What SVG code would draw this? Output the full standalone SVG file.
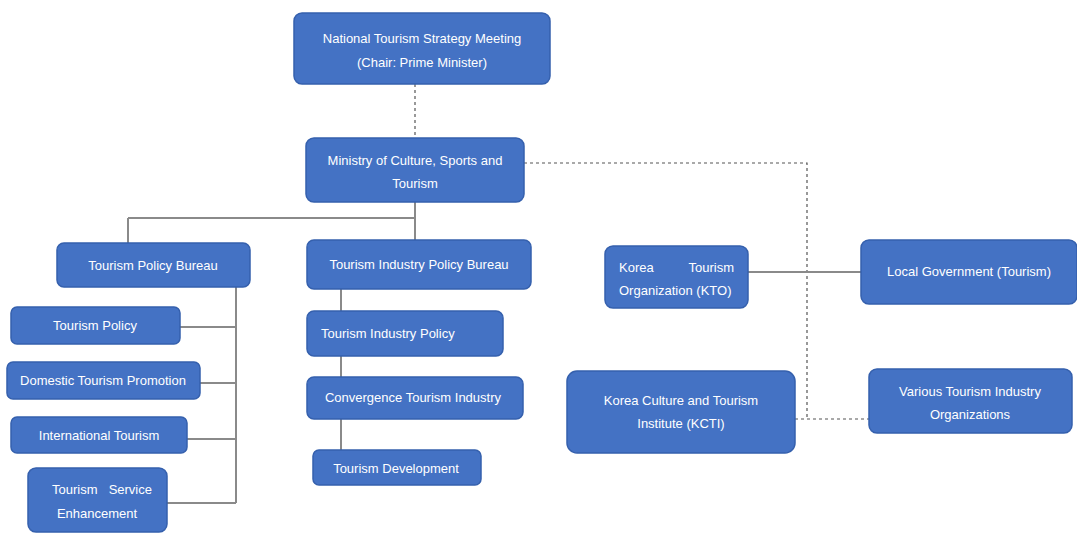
<svg xmlns="http://www.w3.org/2000/svg" width="1077" height="533" viewBox="0 0 1077 533">
<style>
.n{fill:#4472C4;stroke:#3560AD;stroke-width:1.5}
.t{fill:#fff;font-family:"Liberation Sans",Arial,sans-serif;font-size:13px;text-anchor:middle}
.s{fill:none;stroke:#8a8a8a;stroke-width:2}
.d{fill:none;stroke:#555;stroke-width:1.2;stroke-dasharray:3,3}
</style>
<rect width="1077" height="533" fill="#fff"/>
<g id="connectors">
<path class="d" d="M415 84V138"/>
<path class="d" d="M524 163H807V419"/>
<path class="d" d="M795 419H869"/>
<path class="s" d="M415 202V240M128 218H415M128 218V243"/>
<path class="s" d="M236 287V503M180 327H236M200 383H236M187 439H236M167 503H236"/>
<path class="s" d="M341 289V450"/>
<path class="s" d="M748 272H861"/>
</g>
<g id="n1"><rect class="n" x="294" y="13" width="256" height="71" rx="8"/><text class="t" x="422" y="43">National Tourism Strategy Meeting</text><text class="t" x="422" y="67">(Chair: Prime Minister)</text></g>
<g id="n2"><rect class="n" x="306" y="138" width="218" height="64" rx="8"/><text class="t" x="415" y="165">Ministry of Culture, Sports and</text><text class="t" x="415" y="188">Tourism</text></g>
<g id="n3"><rect class="n" x="57" y="243" width="193" height="44" rx="7"/><text class="t" x="153" y="270">Tourism Policy Bureau</text></g>
<g id="n4"><rect class="n" x="307" y="240" width="224" height="49" rx="7"/><text class="t" x="419" y="269">Tourism Industry Policy Bureau</text></g>
<g id="n5"><rect class="n" x="11" y="307" width="169" height="37" rx="6"/><text class="t" x="95" y="330">Tourism Policy</text></g>
<g id="n6"><rect class="n" x="7" y="362" width="193" height="37" rx="6"/><text class="t" x="103" y="385">Domestic Tourism Promotion</text></g>
<g id="n7"><rect class="n" x="11" y="417" width="176" height="36" rx="6"/><text class="t" x="99" y="440">International Tourism</text></g>
<g id="n8"><rect class="n" x="28" y="468" width="139" height="64" rx="8"/><text class="t" x="52" y="494" style="text-anchor:start">Tourism</text><text class="t" x="152" y="494" style="text-anchor:end">Service</text><text class="t" x="97" y="518">Enhancement</text></g>
<g id="n9"><rect class="n" x="307" y="311" width="196" height="45" rx="7"/><text class="t" x="321" y="338" style="text-anchor:start">Tourism Industry Policy</text></g>
<g id="n10"><rect class="n" x="307" y="377" width="216" height="42" rx="7"/><text class="t" x="413" y="402">Convergence Tourism Industry</text></g>
<g id="n11"><rect class="n" x="313" y="450" width="168" height="35" rx="6"/><text class="t" x="396" y="473">Tourism Development</text></g>
<g id="n12"><rect class="n" x="605" y="246" width="143" height="62" rx="8"/><text class="t" x="619" y="272" style="text-anchor:start">Korea</text><text class="t" x="734" y="272" style="text-anchor:end">Tourism</text><text class="t" x="619" y="295" style="text-anchor:start">Organization (KTO)</text></g>
<g id="n13"><rect class="n" x="861" y="240" width="216" height="64" rx="8"/><text class="t" x="969" y="276">Local Government (Tourism)</text></g>
<g id="n14"><rect class="n" x="567" y="371" width="228" height="82" rx="10"/><text class="t" x="681" y="405">Korea Culture and Tourism</text><text class="t" x="681" y="428">Institute (KCTI)</text></g>
<g id="n15"><rect class="n" x="869" y="369" width="203" height="64" rx="8"/><text class="t" x="970" y="396">Various Tourism Industry</text><text class="t" x="970" y="419">Organizations</text></g>
</svg>
